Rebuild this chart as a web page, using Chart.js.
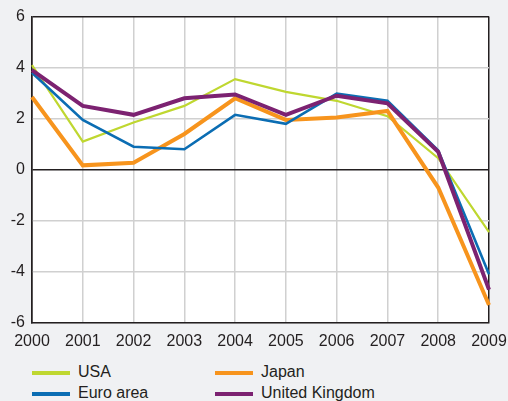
<!DOCTYPE html>
<html>
<head>
<meta charset="utf-8">
<script src="https://cdn.jsdelivr.net/npm/chart.js@4/dist/chart.umd.min.js"></script>
<style>
  html, body { margin: 0; padding: 0; background: #f0f1f3; }
  #wrap { position: relative; width: 508px; height: 401px; overflow: hidden; }
  #box { position: absolute; left: 0; top: 0; width: 508px; height: 360px; }
  #legend { position: absolute; left: 32px; top: 361px; width: 470px;
    font-family: "Liberation Sans", Arial, sans-serif; font-size: 16px; color: #231f20; }
  .item { position: absolute; height: 22px; line-height: 22px; white-space: nowrap; }
  .swatch { display: inline-block; width: 38px; vertical-align: middle; margin-right: 8px; }
</style>
</head>
<body>
<div id="wrap">
  <div id="box"><canvas id="c"></canvas></div>
  <div id="legend"></div>
</div>
<script>
// GDP growth, percent
const years = ["2000","2001","2002","2003","2004","2005","2006","2007","2008","2009"];
const usa   = [4.1, 1.1, 1.85, 2.5, 3.55, 3.05, 2.7, 2.1, 0.45, -2.45];
const euro  = [3.8, 1.95, 0.9, 0.8, 2.15, 1.8, 2.98, 2.7, 0.75, -4.1];
const japan = [2.85, 0.17, 0.27, 1.4, 2.8, 1.95, 2.05, 2.3, -0.7, -5.3];
const uk    = [3.9, 2.5, 2.15, 2.8, 2.95, 2.15, 2.9, 2.6, 0.7, -4.7];

const series = [
  { label: "USA", data: usa, color: "#bfd730", width: 2.2, col: 0, row: 0 },
  { label: "Euro area", data: euro, color: "#0b6db3", width: 2.6, col: 0, row: 1 },
  { label: "Japan", data: japan, color: "#f7941d", width: 4, col: 1, row: 0 },
  { label: "United Kingdom", data: uk, color: "#7c2271", width: 4, col: 1, row: 1 }
];

const dark = "#231f20";
const gridGrey = "#d0d0d0";

// white plot area behind the grid
const plotBg = {
  id: "plotBg",
  beforeDraw(chart) {
    const { ctx, chartArea: a } = chart;
    ctx.save();
    ctx.fillStyle = "#ffffff";
    ctx.fillRect(a.left, a.top, a.right - a.left, a.bottom - a.top);
    ctx.restore();
  }
};

const chart = new Chart(document.getElementById("c"), {
  type: "line",
  data: {
    labels: years,
    datasets: [series[3], series[1], series[2], series[0]].map(s => ({
      label: s.label, data: s.data, borderColor: s.color, borderWidth: s.width,
      pointRadius: 0, tension: 0, fill: false
    }))
  },
  options: {
    responsive: true,
    maintainAspectRatio: false,
    animation: false,
    layout: { padding: { top: 10, right: 0, left: 0, bottom: 0 } },
    plugins: { legend: { display: false }, tooltip: { enabled: false } },
    scales: {
      x: {
        offset: false,
        afterFit: s => { s.paddingRight = 19; s.paddingLeft = 0; },
        grid: {
          color: ctx => (ctx.index === 0 || ctx.index === years.length - 1) ? dark : gridGrey,
          lineWidth: 1.5,
          drawTicks: false
        },
        border: { color: dark, width: 1.5 },
        ticks: { color: dark, font: { family: "Liberation Sans", size: 16 }, padding: 9, maxRotation: 0 }
      },
      y: {
        min: -6, max: 6,
        afterFit: s => { s.width = 32; },
        grid: {
          color: ctx => (ctx.tick.value === 0 || ctx.tick.value === 6) ? dark : gridGrey,
          lineWidth: 1.5,
          drawTicks: false
        },
        border: { color: dark, width: 1.5 },
        ticks: { stepSize: 2, color: dark, font: { family: "Liberation Sans", size: 16 }, padding: 7 }
      }
    }
  },
  plugins: [plotBg]
});

// legend in two columns, built from the series
const leg = document.getElementById("legend");
series.forEach(s => {
  const d = document.createElement("div");
  d.className = "item";
  d.style.left = (s.col * 183) + "px";
  d.style.top = (s.row * 21) + "px";
  const sw = document.createElement("span");
  sw.className = "swatch";
  sw.style.borderTop = "4px solid " + s.color;
  d.appendChild(sw);
  d.appendChild(document.createTextNode(s.label));
  leg.appendChild(d);
});
</script>
</body>
</html>
